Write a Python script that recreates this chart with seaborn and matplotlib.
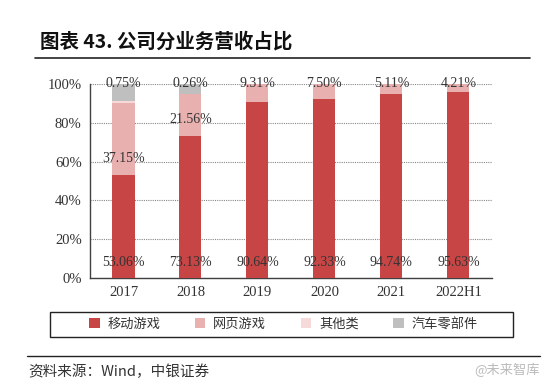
import matplotlib
matplotlib.use("Agg")
import matplotlib.pyplot as plt
import seaborn as sns
import pandas as pd
import numpy as np
from matplotlib.patches import Patch, Rectangle

years = ["2017", "2018", "2019", "2020", "2021", "2022H1"]
mobile = [53.06, 73.13, 90.64, 92.33, 94.74, 95.63]
web = [37.15, 21.56, 9.31, 7.50, 5.11, 4.21]
other = [0.75, 0.26, 0.0, 0.0, 0.0, 0.0]
auto = [9.04, 5.05, 0.0, 0.0, 0.0, 0.0]
series_names = ["移动游戏", "网页游戏", "其他类", "汽车零部件"]
colors = ["#c84545", "#e9b0b0", "#f6d9d9", "#bfbfbf"]

df = pd.DataFrame({"year": years, "mobile": mobile, "web": web, "other": other, "auto": auto})
df["c1"] = df["mobile"]
df["c2"] = df["c1"] + df["web"]
df["c3"] = df["c2"] + df["other"]
df["c4"] = df["c3"] + df["auto"]

sns.set_theme(style="white")
plt.rcParams["font.family"] = ["Noto Sans CJK SC", "DejaVu Sans"]

fig = plt.figure(figsize=(5.52, 3.90), dpi=100)
ax = fig.add_axes([0.163, 0.287, 0.728, 0.498])

w = 0.33
for col, c in zip(["c4", "c3", "c2", "c1"], colors[::-1]):
    sns.barplot(data=df, x="year", y=col, order=years, color=c, width=w,
                saturation=1, ax=ax, zorder=3, edgecolor="none", linewidth=0)

serif = "Liberation Serif"
lab_kw = dict(ha="center", va="center", fontsize=10, family=serif, color="#333333", zorder=5)
for i in range(len(years)):
    ax.text(i, 8, f"{mobile[i]:.2f}%", **lab_kw)
    if web[i] > 15:
        ax.text(i, mobile[i] + 8.5, f"{web[i]:.2f}%", **lab_kw)
    else:
        ax.text(i, 100.3, f"{web[i]:.2f}%", **lab_kw)
    if other[i] > 0:
        ax.text(i, 100.3, f"{other[i]:.2f}%", **lab_kw)

ax.set_ylim(0, 100)
ax.set_xlim(-0.5, len(years) - 0.5)
ax.set_yticks(np.arange(0, 101, 20))
ax.set_yticklabels([f"{v}%" for v in range(0, 101, 20)], family=serif, fontsize=10.5, color="#333333")
ax.set_xticklabels(years, family=serif, fontsize=10.5, color="#333333")
ax.set_xticks(np.arange(-0.5, len(years), 1), minor=True)
ax.tick_params(axis="x", which="major", length=0, pad=6)
ax.tick_params(axis="x", which="minor", length=4, width=1, color="#404040", direction="out")
ax.tick_params(axis="y", length=4, width=1, color="#404040", direction="out", pad=2)
ax.yaxis.grid(True, linestyle=(0, (1, 1)), color="#888888", linewidth=0.8, zorder=0)
ax.set_axisbelow(True)
ax.set_xlabel("")
ax.set_ylabel("")
for s in ["top", "right"]:
    ax.spines[s].set_visible(False)
for s in ["left", "bottom"]:
    ax.spines[s].set_color("#404040")
    ax.spines[s].set_linewidth(1.0)

# title
fig.text(40 / 552, 1 - 42 / 390, "图表 43. 公司分业务营收占比", fontsize=14, fontweight="bold",
         ha="left", va="center", color="#111111")
fig.add_artist(plt.Line2D([35 / 552, 530 / 552], [1 - 58 / 390] * 2, color="#222222", linewidth=1.2))

# legend
fig.add_artist(Rectangle((50 / 552, 1 - 337 / 390), 463 / 552, 25 / 390, transform=fig.transFigure,
                         facecolor="none", edgecolor="#222222", linewidth=1.0))
handles = [Patch(facecolor=c, edgecolor="none") for c in colors]
leg = fig.legend(handles, series_names, loc="center", ncol=4,
                 bbox_to_anchor=(283.5 / 552, 1 - 324.5 / 390), frameon=False,
                 fontsize=9.5, handlelength=0.8, handleheight=0.8, handletextpad=0.6,
                 columnspacing=2.6, borderpad=0.3)
for t in leg.get_texts():
    t.set_color("#333333")

# source line and text
fig.add_artist(plt.Line2D([27 / 552, 540 / 552], [1 - 356 / 390] * 2, color="#222222", linewidth=1.0))
fig.text(28 / 552, 1 - 372 / 390, "资料来源：Wind，中银证券", fontsize=10.5, style="italic",
         ha="left", va="center", color="#333333")
fig.text(540 / 552, 1 - 370 / 390, "@未来智库", fontsize=9.5, ha="right", va="center", color="#bbbbbb")

fig.savefig("out.png", dpi=100)
